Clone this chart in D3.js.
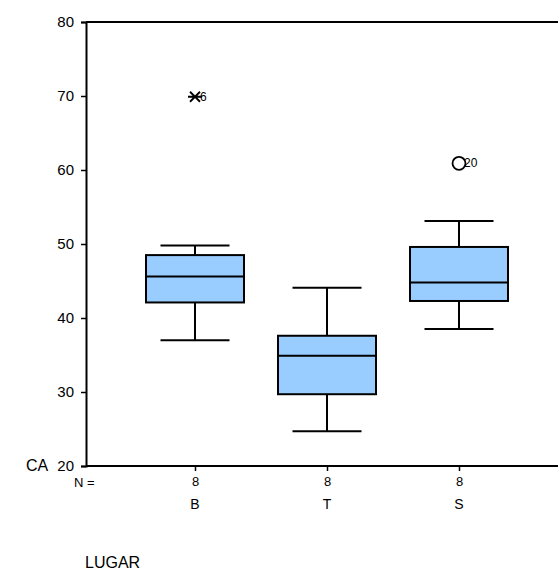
<!DOCTYPE html>
<html>
<head>
<meta charset="utf-8">
<script src="https://cdn.jsdelivr.net/npm/d3@7"></script>
<style>
body { margin: 0; background: #fff; }
text { font-family: "Liberation Sans", Arial, sans-serif; fill: #000; }
</style>
</head>
<body>
<script>
// Boxplot data (CA by LUGAR)
var categories = ["B", "T", "S"];
var counts = [8, 8, 8];
var lowWhisker = [37.0, 24.7, 38.5];
var q1 = [42.1, 29.7, 42.3];
var medians = [45.6, 34.9, 44.8];
var q3 = [48.5, 37.6, 49.6];
var highWhisker = [49.8, 44.1, 53.1];
// outliers: [category, value, case label, kind]
var outliers = [["B", 69.9, "6", "extreme"], ["S", 60.9, "20", "outlier"]];
var yTicks = [20, 30, 40, 50, 60, 70, 80];

var W = 558, H = 572;
var LEFT = 86, TOP = 22, BOTTOM = 466;
var BOX_W = 98, CAP_W = 69;

var svg = d3.select("body").append("svg")
	.attr("width", W)
	.attr("height", H);

var y = d3.scaleLinear().domain([20, 80]).range([BOTTOM, TOP]);
var x = d3.scalePoint().domain(categories).range([195, 459]);

// frame lines (top, bottom)
svg.append("line").attr("x1", LEFT).attr("x2", W).attr("y1", TOP).attr("y2", TOP)
	.attr("stroke", "#000").attr("stroke-width", 2);
svg.append("line").attr("x1", LEFT).attr("x2", W).attr("y1", BOTTOM).attr("y2", BOTTOM)
	.attr("stroke", "#000").attr("stroke-width", 2);

// y axis
var yAxis = svg.append("g")
	.attr("transform", "translate(" + LEFT + ",0)")
	.call(d3.axisLeft(y).tickValues(yTicks).tickSize(5).tickPadding(7));
yAxis.attr("font-family", null).attr("font-size", 15);
yAxis.select(".domain").attr("stroke-width", 2);
yAxis.selectAll(".tick line").attr("stroke-width", 1.5);
yAxis.selectAll("text").style("font-size", "15px");

// x axis ticks with N counts
var xAxis = svg.append("g")
	.attr("transform", "translate(0," + BOTTOM + ")")
	.call(d3.axisBottom(x).tickSize(5).tickFormat(function(d, i) { return counts[i]; }).tickPadding(6));
xAxis.attr("font-family", null).attr("font-size", 13);
xAxis.select(".domain").remove();
xAxis.selectAll(".tick line").attr("stroke-width", 1.5);
xAxis.selectAll("text").style("font-size", "13px");

svg.append("text").attr("x", 74).attr("y", 487).style("font-size", "13px").text("N =");

// category labels
svg.selectAll(".cat")
	.data(categories)
	.enter()
	.append("text")
	.attr("class", "cat")
	.attr("x", function(d) { return x(d); })
	.attr("y", 509)
	.attr("text-anchor", "middle")
	.style("font-size", "14px")
	.text(function(d) { return d; });

// boxes
var g = svg.selectAll(".box")
	.data(categories)
	.enter()
	.append("g")
	.attr("class", "box");

g.append("line")
	.attr("x1", function(d) { return x(d); })
	.attr("x2", function(d) { return x(d); })
	.attr("y1", function(d, i) { return y(highWhisker[i]); })
	.attr("y2", function(d, i) { return y(lowWhisker[i]); })
	.attr("stroke", "#000").attr("stroke-width", 2);

g.selectAll(".cap")
	.data(function(d, i) { return [[d, highWhisker[i]], [d, lowWhisker[i]]]; })
	.enter()
	.append("line")
	.attr("x1", function(d) { return x(d[0]) - CAP_W / 2; })
	.attr("x2", function(d) { return x(d[0]) + CAP_W / 2; })
	.attr("y1", function(d) { return y(d[1]); })
	.attr("y2", function(d) { return y(d[1]); })
	.attr("stroke", "#000").attr("stroke-width", 2);

g.append("rect")
	.attr("x", function(d) { return x(d) - BOX_W / 2; })
	.attr("y", function(d, i) { return y(q3[i]); })
	.attr("width", BOX_W)
	.attr("height", function(d, i) { return y(q1[i]) - y(q3[i]); })
	.attr("fill", "#99ccff")
	.attr("stroke", "#000").attr("stroke-width", 2);

g.append("line")
	.attr("x1", function(d) { return x(d) - BOX_W / 2; })
	.attr("x2", function(d) { return x(d) + BOX_W / 2; })
	.attr("y1", function(d, i) { return y(medians[i]); })
	.attr("y2", function(d, i) { return y(medians[i]); })
	.attr("stroke", "#000").attr("stroke-width", 2);

// outliers
outliers.forEach(function(o) {
	var cx = x(o[0]), cy = y(o[1]);
	if (o[3] == "extreme")
	{
		var s = 5;
		svg.append("path")
			.attr("d", "M " + (cx - s) + " " + (cy - s) + " L " + (cx + s) + " " + (cy + s) +
				" M " + (cx - s) + " " + (cy + s) + " L " + (cx + s) + " " + (cy - s) +
				" M " + (cx - 7) + " " + cy + " L " + (cx + 7) + " " + cy)
			.attr("stroke", "#000").attr("stroke-width", 1.8).attr("fill", "none");
		svg.append("text").attr("x", cx + 5).attr("y", cy + 4).style("font-size", "12px").text(o[2]);
	}
	else
	{
		svg.append("circle").attr("cx", cx).attr("cy", cy).attr("r", 6.5)
			.attr("fill", "none").attr("stroke", "#000").attr("stroke-width", 1.8);
		svg.append("text").attr("x", cx + 5).attr("y", cy + 4).style("font-size", "12px").text(o[2]);
	}
});

// axis titles
svg.append("text").attr("x", 26).attr("y", 471).style("font-size", "16px").text("CA");
svg.append("text").attr("x", 85).attr("y", 568).style("font-size", "16px").text("LUGAR");
</script>
</body>
</html>
